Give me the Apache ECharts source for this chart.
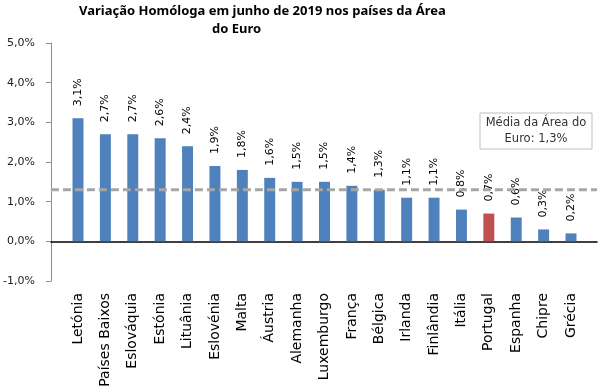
<!DOCTYPE html>
<html><head><meta charset="utf-8">
<script src="https://cdn.jsdelivr.net/npm/echarts@6/dist/echarts.min.js"></script>
<style>html,body{margin:0;padding:0;background:#fff}#c{width:605px;height:392px}</style>
</head><body><div id="c"></div>
<script>
const categories = ['Letónia','Países Baixos','Eslováquia','Estónia','Lituânia','Eslovénia','Malta','Áustria','Alemanha','Luxemburgo','França','Bélgica','Irlanda','Finlândia','Itália','Portugal','Espanha','Chipre','Grécia'];
const values = [3.1,2.7,2.7,2.6,2.4,1.9,1.8,1.6,1.5,1.5,1.4,1.3,1.1,1.1,0.8,0.7,0.6,0.3,0.2];
const highlight = 'Portugal';
const euroAverage = 1.3;
const yTicks = [-1,0,1,2,3,4,5];
const titleLine1 = 'Variação Homóloga em junho de 2019 nos países da Área';
const titleLine2 = 'do Euro';
const noteText = 'Média da Área do\nEuro: 1,3%';

const fmt = v => v.toFixed(1).replace('.', ',') + '%';
const FONT = 'DejaVu Sans';
const TFONT = 'Noto Sans';
const chart = echarts.init(document.getElementById('c'), null, {renderer:'canvas'});
chart.setOption({
  animation:false,
  backgroundColor:'#fff',
  title:[
    {text:titleLine1, left:79, top:5, padding:0, textStyle:{fontFamily:TFONT, fontWeight:'bold', fontSize:13, color:'#000'}},
    {text:titleLine2, left:212, top:23, padding:0, textStyle:{fontFamily:TFONT, fontWeight:'bold', fontSize:13, color:'#000'}}
  ],
  grid:[
    {left:64.3, right:20.3, top:43, bottom:111, containLabel:false},
    {left:50, right:8, top:43, bottom:111, containLabel:false}
  ],
  xAxis:[
    {type:'category', gridIndex:0, data:categories, axisLine:{show:false}, axisTick:{show:false},
     axisLabel:{rotate:90, margin:12, interval:0, fontFamily:FONT, fontSize:14, color:'#000'}},
    {type:'value', gridIndex:1, min:0, max:1, show:true, axisLine:{show:true, onZero:true, lineStyle:{color:'#000', width:1.5}},
     axisTick:{show:false}, axisLabel:{show:false}, splitLine:{show:false}}
  ],
  yAxis:[
    {type:'value', gridIndex:0, min:yTicks[0], max:yTicks[yTicks.length-1], interval:1, show:false, splitLine:{show:false}},
    {type:'value', gridIndex:1, min:yTicks[0], max:yTicks[yTicks.length-1], interval:1,
     axisLine:{show:true, lineStyle:{color:'#8c8c8c'}}, axisTick:{show:true, length:5, lineStyle:{color:'#8c8c8c'}},
     splitLine:{show:false},
     axisLabel:{margin:16, formatter:v=>fmt(v), fontFamily:FONT, fontSize:11, color:'#222'}}
  ],
  series:[
    {type:'bar', xAxisIndex:0, yAxisIndex:0, barWidth:'40%',
     data: values.map((v,i)=>({value:v, itemStyle:{color: categories[i]===highlight ? '#C0504D' : '#4F81BD'}})),
     label:{show:true, position:'top', rotate:90, align:'left', verticalAlign:'middle', distance:12,
       formatter:p=>fmt(p.value), fontFamily:FONT, fontSize:11, color:'#000'}},
    {type:'line', xAxisIndex:1, yAxisIndex:1, symbol:'none', silent:true,
     data:[[0,euroAverage],[1,euroAverage]], lineStyle:{color:'#a6a6a6', width:3, type:[8,4]}, z:5}
  ],
  graphic:[
    {type:'rect', shape:{x:480, y:113, width:112, height:36}, style:{fill:'#fff', stroke:'#bfbfbf', lineWidth:1}},
    {type:'text', x:536, y:131, style:{text:noteText, textAlign:'center', textVerticalAlign:'middle', font:'11.5px "DejaVu Sans"', fill:'#333', lineHeight:16}}
  ]
});
</script></body></html>
